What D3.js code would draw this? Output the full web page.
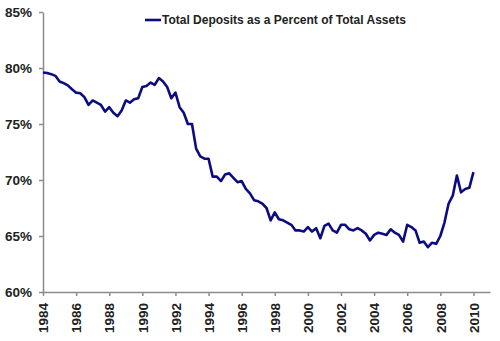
<!DOCTYPE html>
<html lang="en">
<head>
    <meta charset="UTF-8">
    <title>Total Deposits as a Percent of Total Assets</title>
    <script src="https://cdn.jsdelivr.net/npm/d3@7"></script>
    <style>
        body { margin: 0; background: #fff; }
        svg { display: block; }
        text { font-family: "Liberation Sans", Arial, sans-serif; font-weight: bold; fill: #222; }
        .axis path, .axis line { stroke: #8c8c8c; stroke-width: 1.5; }
    </style>
</head>
<body>
    <script>
        // quarterly values, 1984 Q1 .. 2010 Q1
        const startYear = 1984;
        const depositPct = [
            79.6, 79.55, 79.45, 79.3, 78.8, 78.65, 78.45, 78.1, 77.8, 77.75,
            77.4, 76.7, 77.1, 76.9, 76.7, 76.1, 76.5, 76.0, 75.7, 76.2,
            77.1, 76.9, 77.2, 77.3, 78.3, 78.4, 78.7, 78.5, 79.1, 78.8,
            78.3, 77.3, 77.8, 76.5, 76.0, 75.0, 75.0, 72.8, 72.1, 71.9,
            71.9, 70.3, 70.3, 69.9, 70.5, 70.6, 70.2, 69.8, 69.9, 69.2,
            68.8, 68.2, 68.1, 67.9, 67.5, 66.4, 67.1, 66.5, 66.4, 66.2,
            66.0, 65.5, 65.5, 65.4, 65.8, 65.4, 65.7, 64.8, 65.9, 66.1,
            65.5, 65.3, 66.0, 66.0, 65.6, 65.5, 65.7, 65.5, 65.2, 64.6,
            65.1, 65.3, 65.2, 65.1, 65.6, 65.3, 65.1, 64.5, 66.0, 65.8,
            65.5, 64.4, 64.5, 64.0, 64.4, 64.3, 65.0, 66.2, 67.9, 68.6,
            70.4, 68.9, 69.2, 69.3, 70.7
        ];
        const xTicks = [1984, 1986, 1988, 1990, 1992, 1994, 1996, 1998, 2000, 2002, 2004, 2006, 2008, 2010];
        const yTicks = [60, 65, 70, 75, 80, 85];
        const seriesName = "Total Deposits as a Percent of Total Assets";

        const width = 500, height = 341;
        const margin = { left: 43, right: 10, top: 12, bottom: 49 };

        const svg = d3.select("body").append("svg")
            .attr("width", width)
            .attr("height", height);

        const x = d3.scaleLinear().domain([1984, 2011]).range([margin.left, width - margin.right]);
        const y = d3.scaleLinear().domain([60, 85]).range([height - margin.bottom, margin.top]);

        const data = depositPct.map((v, i) => ({ t: startYear + i / 4, v: v }));

        // y axis
        const gy = svg.append("g")
            .attr("class", "axis")
            .attr("transform", `translate(${margin.left},0)`)
            .call(d3.axisLeft(y).tickValues(yTicks).tickSize(4).tickSizeOuter(0).tickFormat(d => d + "%"));
        gy.selectAll("text").attr("font-size", 13.5).attr("x", -11);

        // x axis
        const gx = svg.append("g")
            .attr("class", "axis")
            .attr("transform", `translate(0,${height - margin.bottom})`)
            .call(d3.axisBottom(x).tickValues(xTicks).tickSize(4).tickSizeOuter(0).tickFormat(d3.format("d")));
        gx.selectAll("text")
            .attr("font-size", 13.5)
            .attr("transform", "rotate(-90)")
            .attr("text-anchor", "end")
            .attr("x", -11)
            .attr("y", 0)
            .attr("dy", "0.35em");

        // line
        const line = d3.line().x(d => x(d.t)).y(d => y(d.v));
        svg.append("path")
            .datum(data)
            .attr("fill", "none")
            .attr("stroke", "#0c0c82")
            .attr("stroke-width", 2.6)
            .attr("stroke-linejoin", "round")
            .attr("d", line);

        // legend
        const legend = svg.append("g").attr("transform", "translate(145,20)");
        legend.append("line")
            .attr("x1", 0).attr("x2", 16)
            .attr("stroke", "#0c0c82").attr("stroke-width", 2.6);
        legend.append("text")
            .attr("x", 17)
            .attr("dy", "0.35em")
            .attr("font-size", 12)
            .text(seriesName);
    </script>
</body>
</html>
